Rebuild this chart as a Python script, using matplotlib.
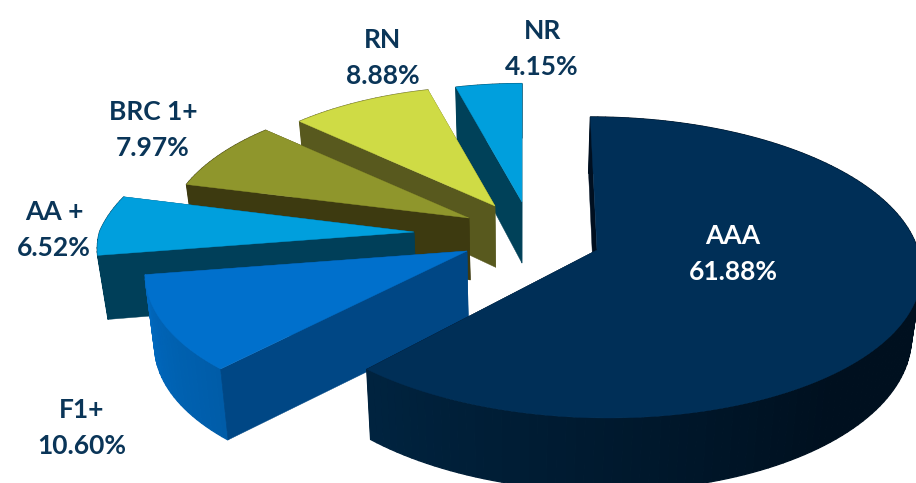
"""Exploded 3D-look pie of rating shares, projected by hand onto pixel axes."""
import matplotlib
matplotlib.use("Agg")
import matplotlib.pyplot as plt
import matplotlib.colors as mcolors
import numpy as np

# data, clockwise from 12 o'clock
names = ["AAA", "F1+", "AA +", "BRC 1+", "RN", "NR"]
shares = [61.88, 10.60, 6.52, 7.97, 8.88, 4.15]

# styling
top_colors = ["#002f57", "#0070cc", "#009fdd", "#8f962c", "#cfdb45", "#009fdd"]
cut_colors = ["#000f20", "#004785", "#003f59", "#3d3a10", "#58591e", "#004159"]
wall_from = ["#00101f", "#005ca8", "#003f59", "#3d3a10", "#58591e", "#004159"]
wall_to = ["#00233f", "#0068be", "#003f59", "#3d3a10", "#58591e", "#004159"]
text_colors = ["white", "#0a3558", "#0a3558", "#0a3558", "#0a3558", "#0a3558"]

# where each exploded slice sits, and its size tweak
apex_x = [597, 467, 414, 469, 495, 522]
apex_y = [250, 251, 232, 218, 206, 202]
r_scale = [1.0, 0.99, 0.98, 0.935, 0.90, 0.89]
skew_up = [0.05, 0, -0.17, 0, 0, 0]
skew_down = [0.067, -0.09, 0, 0, 0, 0]
depth_base = [50, 71, 50, 50, 50, 50]
depth_slope = [0.055, 0, 0.055, 0.055, 0.055, 0.055]
label_x = [733, 82, 54, 153, 383, 542]
label_y = [254, 428, 230, 130, 58, 49]

RX, RY, PERSP = 321, 148.5, 0.116


def top_point(theta, i):
    """Point on the rim of slice i at clockwise angle theta (radians)."""
    u, v = np.sin(theta), np.cos(theta)
    s = r_scale[i] / (1 + PERSP * v)
    x, y = RX * u * s, -RY * v * s
    x = x + skew_up[i] * np.minimum(y, 0) + skew_down[i] * np.maximum(y, 0)
    return apex_x[i] + x, apex_y[i] + y


def wall(ax, xs, ys, color, i, lw=0.3):
    # extrude the top edge down to the bottom of the pie
    bx = xs - (xs - 520) * 0.025
    by = ys + depth_base[i] + depth_slope[i] * ys
    ax.fill(np.r_[xs, bx[::-1]], np.r_[ys, by[::-1]], color=color, lw=lw, zorder=ax.zcount)
    ax.zcount += 1


fig = plt.figure(figsize=(9.16, 4.83), dpi=100)
ax = fig.add_axes([0, 0, 1, 1])
ax.set_xlim(0, 916)
ax.set_ylim(483, 0)
ax.axis("off")
ax.zcount = 1

bounds = np.radians(np.r_[0, np.cumsum(shares)] * 3.6)

# back slices first, AAA goes last and overlaps the rest
for i in range(len(names) - 1, -1, -1):
    a0, a1 = bounds[i], bounds[i + 1]
    thetas = np.linspace(a0, a1, max(int(np.degrees(a1 - a0) / 1.5), 4) + 1)
    xs, ys = top_point(thetas, i)
    ax0, ay0 = apex_x[i], apex_y[i]

    # end cut
    wall(ax, np.array([ax0, xs[-1]], float), np.array([ay0, ys[-1]], float), cut_colors[i], i)

    # outer wall, shaded strip by strip (thick edge hides the seams)
    c0, c1 = mcolors.to_rgb(wall_from[i]), mcolors.to_rgb(wall_to[i])
    for j in range(len(thetas) - 1):
        t = j / (len(thetas) - 2)
        if i == 0:
            # darkest towards lower right, lighter going round to the left
            t = np.clip((thetas[j] - np.radians(140)) / np.radians(80), 0, 1)
        col = tuple((1 - t) * a + t * b for a, b in zip(c0, c1))
        wall(ax, xs[j:j + 2], ys[j:j + 2], col, i, lw=0.9)

    # start cut
    wall(ax, np.array([ax0, xs[0]], float), np.array([ay0, ys[0]], float), cut_colors[i], i)

    # top face
    ax.fill(np.r_[ax0, xs], np.r_[ay0, ys], color=top_colors[i], lw=0.3, zorder=ax.zcount)
    ax.zcount += 1

for i, name in enumerate(names):
    ax.text(label_x[i], label_y[i], f"{name}\n{shares[i]:.2f}%", ha="center", va="center",
            family="Lato", weight="bold", fontsize=19, color=text_colors[i],
            linespacing=1.58, zorder=ax.zcount)

fig.savefig("out.png", dpi=100)
